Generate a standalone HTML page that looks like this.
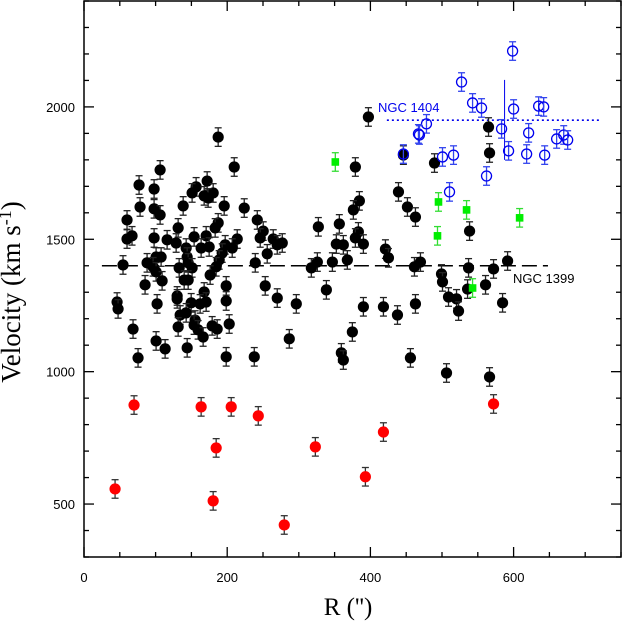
<!DOCTYPE html>
<html><head><meta charset="utf-8">
<style>
html,body{margin:0;padding:0;background:#fff;}
svg{display:block;}
</style></head>
<body>
<svg id="chart" width="622" height="622" viewBox="0 0 622 622" xmlns="http://www.w3.org/2000/svg">
<rect x="0" y="0" width="622" height="622" fill="#fff"/>
<g id="marks"></g>
<g id="axes"></g>
</svg>
<script>
// ---- data ----
const blackR = [187.4,209.8,106.3,76.9,97.9,172.0,156.6,151.0,167.8,180.4,173.4,78.3,138.5,195.8,223.8,97.9,106.3,60.1,242.0,187.4,131.5,183.2,250.3,60.1,67.1,97.9,116.1,153.8,170.6,214.0,246.1,264.3,276.9,128.7,142.7,163.6,174.8,197.2,207.0,269.9,100.7,107.7,193.0,255.9,88.1,54.5,144.1,188.8,145.5,132.9,151.0,184.6,96.5,100.7,239.2,176.2,139.9,145.5,109.1,85.3,198.6,253.1,167.8,130.1,130.1,269.9,46.2,296.5,102.1,149.7,162.2,170.6,198.6,47.6,134.3,142.7,155.2,68.5,131.5,153.8,159.4,179.0,186.0,202.8,166.4,100.7,113.3,144.1,286.7,75.5,198.6,237.8,
397.2,379.0,446.1,489.5,565.0,566.4,439.2,384.6,376.2,451.7,462.9,327.3,356.6,383.2,379.0,352.4,362.2,390.2,538.5,421.0,425.2,325.9,317.5,346.9,367.8,461.5,469.9,499.3,500.7,537.1,572.0,591.6,535.7,560.8,338.5,509.1,520.3,523.1,584.6,390.2,418.2,437.8,462.9,374.8,359.4,362.2,455.9,506.3,566.4];
const blackV = [1886,1773,1762,1705,1690,1720,1698,1675,1664,1675,1656,1622,1626,1626,1618,1615,1592,1573,1573,1562,1543,1543,1531,1501,1513,1505,1498,1509,1513,1501,1505,1501,1486,1486,1467,1467,1471,1479,1467,1479,1433,1433,1448,1445,1411,1403,1433,1422,1411,1392,1392,1396,1396,1377,1411,1365,1346,1346,1343,1328,1324,1324,1301,1286,1275,1278,1263,1256,1256,1260,1256,1263,1267,1237,1214,1222,1195,1161,1169,1176,1158,1173,1161,1180,1131,1116,1086,1090,1124,1052,1056,1056,
1962,1773,1818,1788,1924,1826,1679,1645,1611,1622,1584,1547,1558,1528,1505,1482,1479,1482,1531,1463,1430,1414,1392,1414,1422,1396,1414,1369,1339,1392,1388,1418,1312,1328,1309,1282,1275,1229,1260,1245,1245,1214,1256,1150,1071,1044,1052,995,980];
const blueR = [598.6,527.3,542.7,555.2,600.0,635.0,642.0,478.3,467.1,468.5,583.2,621.0,446.1,500.7,516.1,593.0,618.2,643.4,660.1,670.0,675.5,562.2,510.5];
const blueV = [2211,2094,2015,1996,1992,2003,2000,1936,1898,1894,1917,1902,1822,1811,1818,1834,1822,1818,1879,1894,1875,1739,1679];
const greenR = [351.0,495.1,493.7,534.3,608.4,542.7];
const greenV = [1792,1641,1513,1611,1581,1316];
const redR = [43.4,69.9,163.6,205.6,243.4,184.6,180.4,279.7,323.1,418.2,393.0,572.0];
const redV = [557,874,867,867,833,712,512,421,716,772,603,878];
const velErr = 35;
const xTicks = [0,200,400,600];
const yTicks = [500,1000,1500,2000];
const ngc1399V = 1400, ngc1399R = [25,648];
const ngc1404V = 1950, ngc1404R = [423,721];
const bigErrR = 587.4, bigErrV = [1800,2102];

// ---- axes ----
const X0=84, X1=621, Y0=1, Y1=557, RMIN=0, RMAX=750, VMIN=300, VMAX=2400;
const xs = r => X0 + (r-RMIN)/(RMAX-RMIN)*(X1-X0);
const ys = v => Y1 - (v-VMIN)/(VMAX-VMIN)*(Y1-Y0);
const NS='http://www.w3.org/2000/svg';
function mk(tag, attrs, parent){const e=document.createElementNS(NS,tag);for(const k in attrs)e.setAttribute(k,attrs[k]);parent.appendChild(e);return e;}
const marks=document.getElementById('marks'), axes=document.getElementById('axes');

let l=mk('line',{x1:xs(ngc1399R[0]),x2:xs(ngc1399R[1]),y1:ys(ngc1399V),y2:ys(ngc1399V),stroke:'#000','stroke-width':1.6,'stroke-dasharray':'15,6'},marks);


l=mk('line',{x1:xs(ngc1404R[0]),x2:xs(ngc1404R[1]),y1:ys(ngc1404V),y2:ys(ngc1404V),stroke:'#0000ee','stroke-width':1.6,'stroke-dasharray':'2,3'},marks);


l=mk('line',{x1:xs(bigErrR),x2:xs(bigErrR),y1:ys(bigErrV[0]),y2:ys(bigErrV[1]),stroke:'#0000ee','stroke-width':1},marks);


let t=mk('text',{x:513,y:283,'font-family':'Liberation Sans, sans-serif','font-size':13,fill:'#000'},marks);
t.textContent='NGC 1399';


t=mk('text',{x:378,y:112,'font-family':'Liberation Sans, sans-serif','font-size':13,fill:'#0000ee'},marks);
t.textContent='NGC 1404';



function errbar(r,v,col){
  const x=xs(r), ya=ys(v+velErr), yb=ys(v-velErr);
  const g=mk('g',{stroke:col,'stroke-width':1.3},marks);
  
  
  mk('line',{x1:x,x2:x,y1:ya,y2:yb},g);
  mk('line',{x1:x-3.5,x2:x+3.5,y1:ya,y2:ya},g);
  mk('line',{x1:x-3.5,x2:x+3.5,y1:yb,y2:yb},g);
}
for(let i=0;i<blackR.length;i++){
  errbar(blackR[i],blackV[i],'#222');
  const c=mk('circle',{cx:xs(blackR[i]),cy:ys(blackV[i]),r:5.6,fill:'#000'},marks);
  
  
}
for(let i=0;i<redR.length;i++){
  errbar(redR[i],redV[i],'#333');
  const c=mk('circle',{cx:xs(redR[i]),cy:ys(redV[i]),r:5.6,fill:'#ff0000'},marks);
  
  
}
for(let i=0;i<greenR.length;i++){
  errbar(greenR[i],greenV[i],'#33dd33');
  const s=mk('rect',{x:xs(greenR[i])-3.8,y:ys(greenV[i])-3.8,width:7.6,height:7.6,fill:'#00ee00'},marks);
  
  
}
for(let i=0;i<blueR.length;i++){
  errbar(blueR[i],blueV[i],'#3344ee');
  const c=mk('circle',{cx:xs(blueR[i]),cy:ys(blueV[i]),r:5,fill:'none',stroke:'#0000ee','stroke-width':1.3},marks);
  
  
}

const fr=mk('rect',{x:X0,y:Y0,width:X1-X0,height:Y1-Y0,fill:'none',stroke:'#000','stroke-width':1.5},axes);


for(let r=0;r<=RMAX;r+=50){
  const major=r%200===0, len=major?10:5, x=xs(r);
  mk('line',{x1:x,x2:x,y1:Y1,y2:Y1-len,stroke:'#000','stroke-width':1.3},axes);
  mk('line',{x1:x,x2:x,y1:Y0,y2:Y0+len,stroke:'#000','stroke-width':1.3},axes);
}
for(const r of xTicks){
  const tx=mk('text',{x:xs(r),y:582,'text-anchor':'middle','font-family':'Liberation Sans, sans-serif','font-size':13,fill:'#000'},axes);
  tx.textContent=String(r);
  
  
}
for(let v=VMIN;v<=VMAX;v+=100){
  const major=v%500===0, len=major?10:5, y=ys(v);
  mk('line',{x1:X0,x2:X0+len,y1:y,y2:y,stroke:'#000','stroke-width':1.3},axes);
  mk('line',{x1:X1,x2:X1-len,y1:y,y2:y,stroke:'#000','stroke-width':1.3},axes);
}
for(const v of yTicks){
  const ty=mk('text',{x:75,y:ys(v)+5,'text-anchor':'end','font-family':'Liberation Sans, sans-serif','font-size':13,fill:'#000'},axes);
  ty.textContent=String(v);
  
  
}
const xt=mk('text',{x:348,y:615,'text-anchor':'middle','font-family':'Liberation Serif, serif','font-size':25,fill:'#000'},axes);
xt.textContent="R ('')";


const yt=mk('text',{x:0,y:0,'text-anchor':'middle','font-family':'Liberation Serif, serif','font-size':27,fill:'#000',transform:'translate(20,292) rotate(-90)'},axes);
yt.textContent='Velocity (km s';
const sup=mk('tspan',{dy:-9,'font-size':18},yt);
sup.textContent='-1';
const cl=mk('tspan',{dy:9},yt);
cl.textContent=')';


</script>
</body></html>
